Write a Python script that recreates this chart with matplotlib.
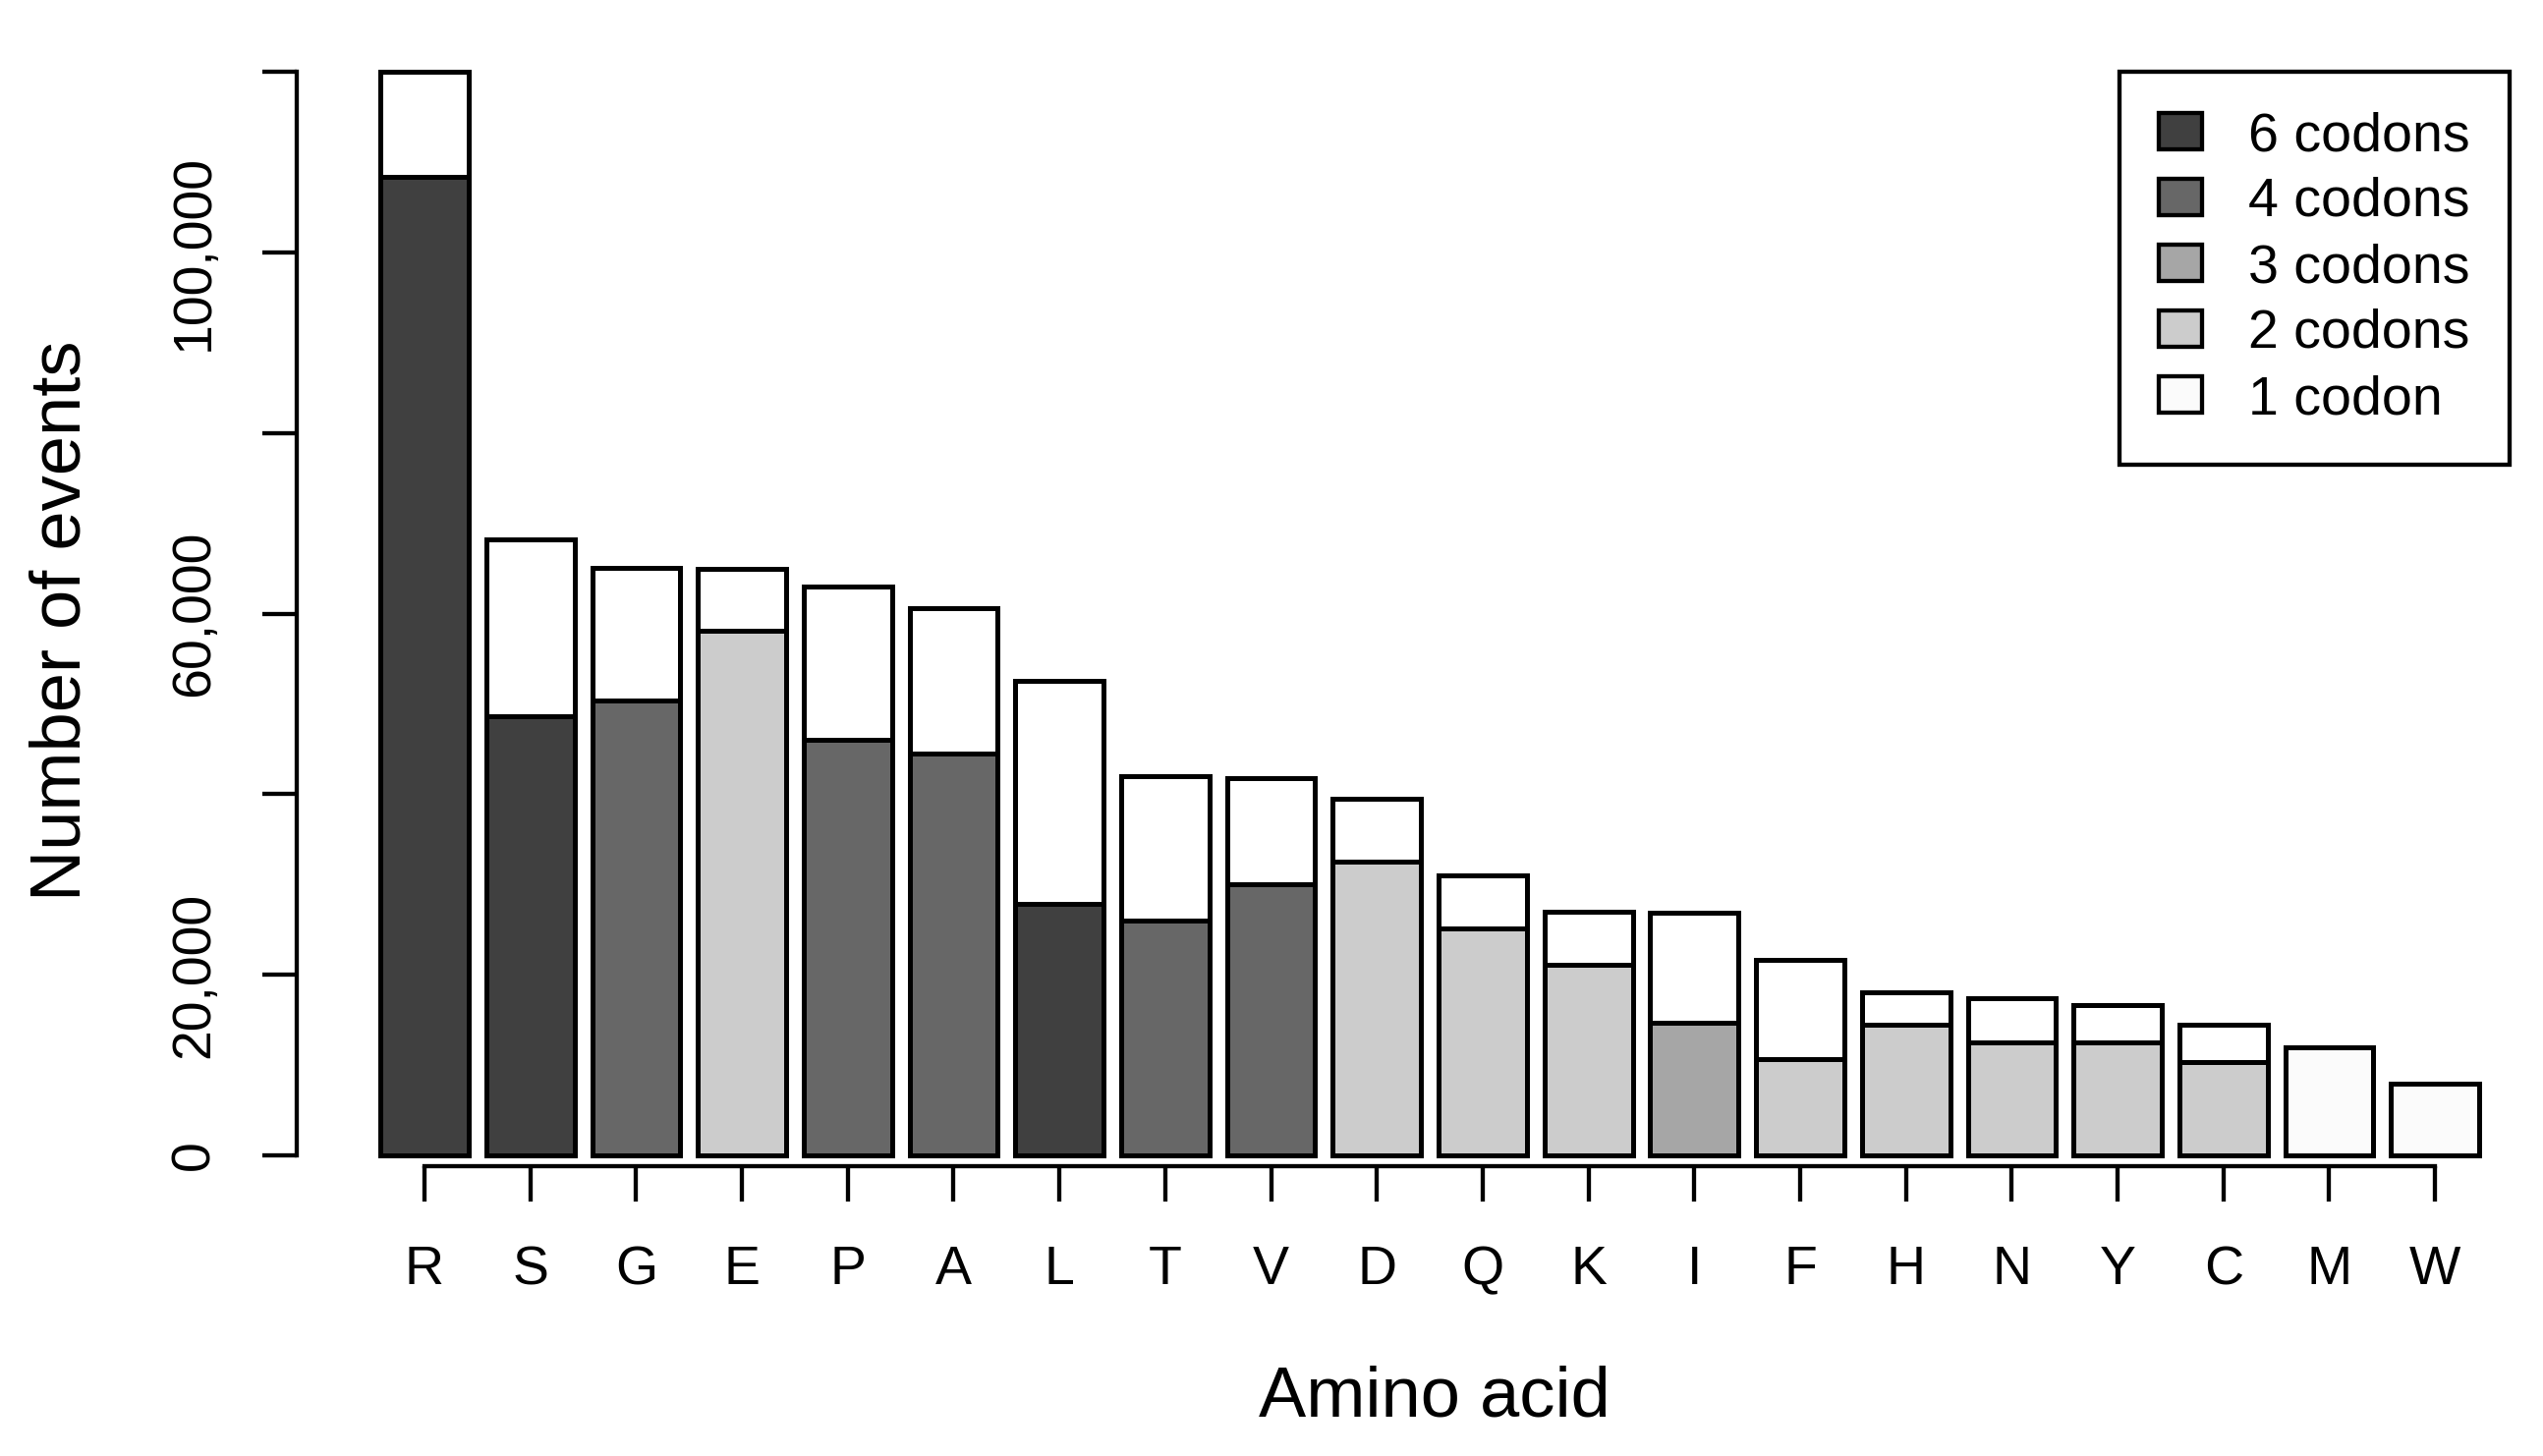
import numpy as np
import matplotlib
matplotlib.use("Agg")
import matplotlib.pyplot as plt
from matplotlib.patches import Patch
from matplotlib.ticker import FixedLocator, FuncFormatter

plt.rcParams['font.family'] = ['Liberation Sans', 'DejaVu Sans']

# amino acids in plotted order
amino = ["R", "S", "G", "E", "P", "A", "L", "T", "V", "D",
         "Q", "K", "I", "F", "H", "N", "Y", "C", "M", "W"]
# number of codons for each amino acid
codons = [6, 6, 4, 2, 4, 4, 6, 4, 4, 2,
          2, 2, 3, 2, 2, 2, 2, 2, 1, 1]
# total height of each bar (number of events)
total = [120000, 68200, 65100, 64900, 63000, 60600, 52600, 42000, 41800, 39500,
         31000, 27000, 26900, 21600, 18100, 17400, 16600, 14500, 12000, 7900]
# height of the lower, shaded part of each bar
lower = [108400, 48600, 50400, 58100, 46000, 44500, 27800, 26000, 30000, 32500,
         25100, 21100, 14700, 10700, 14500, 12500, 12500, 10300, 12000, 7900]

legend_labels = ["6 codons", "4 codons", "3 codons", "2 codons", "1 codon"]
legend_codons = [6, 4, 3, 2, 1]
fill = {6: "#404040", 4: "#676767", 3: "#a6a6a6", 2: "#cccccc", 1: "#fbfbfb"}

yticks = [0, 20000, 40000, 60000, 80000, 100000, 120000]
shown_yticks = [0, 20000, 60000, 100000]

total = np.array(total)
lower = np.array(lower)
x = np.arange(len(amino))
width = 1 / 1.2

fig = plt.figure(figsize=(25.88, 14.82), dpi=100)
ax = fig.add_axes([0.1167, 0.2065, 0.870, 0.7442])

bar_lw = 3.6
ax.bar(x, lower, width=width, color=[fill[c] for c in codons],
       edgecolor="black", linewidth=bar_lw, joinstyle="miter", clip_on=False)
upper = total - lower
has_top = upper > 0
ax.bar(x[has_top], upper[has_top], bottom=lower[has_top], width=width,
       color="white", edgecolor="black", linewidth=bar_lw,
       joinstyle="miter", clip_on=False)

ax.set_xlim(-1.207, 19.70)
ax.set_ylim(0, 120000)

axis_lw = 3.1
for side in ["top", "right"]:
    ax.spines[side].set_visible(False)
ax.spines["left"].set_bounds(0, 120000)
ax.spines["left"].set_linewidth(axis_lw)
ax.spines["bottom"].set_position(("outward", 7.9))
ax.spines["bottom"].set_bounds(0, len(amino) - 1)
ax.spines["bottom"].set_linewidth(axis_lw)
ax.spines["left"].set_capstyle("projecting")
ax.spines["bottom"].set_capstyle("projecting")

ax.set_xticks(x)
ax.set_xticklabels(amino)
ax.yaxis.set_major_locator(FixedLocator(yticks))
ax.yaxis.set_major_formatter(
    FuncFormatter(lambda v, p: f"{int(v):,}" if int(v) in shown_yticks else ""))

ax.tick_params(axis="x", length=26, width=axis_lw, pad=32, labelsize=40)
ax.tick_params(axis="y", length=25, width=axis_lw, pad=31, labelsize=40)
for lab in ax.get_yticklabels():
    lab.set_rotation(90)
    lab.set_va("center")

fig.text(63 / 2588, 1 - 632 / 1482, "Number of events", rotation=90,
         ha="center", va="center", fontsize=52)
fig.text(1460 / 2588, 1 - 1423 / 1482, "Amino acid",
         ha="center", va="center", fontsize=52)

handles = [Patch(facecolor=fill[c], edgecolor="black", linewidth=axis_lw)
           for c in legend_codons]
leg = ax.legend(handles, legend_labels, loc="upper right",
                bbox_to_anchor=(2554 / 2588, 1 - 73 / 1482),
                bbox_transform=fig.transFigure, borderaxespad=0,
                fontsize=40, handlelength=0.79, handleheight=0.67,
                handletextpad=0.85, borderpad=0.72, labelspacing=0.27,
                fancybox=False, framealpha=1, edgecolor="black")
leg.get_frame().set_linewidth(axis_lw)
leg.get_frame().set_joinstyle("miter")

fig.savefig("out.png", dpi=100)
